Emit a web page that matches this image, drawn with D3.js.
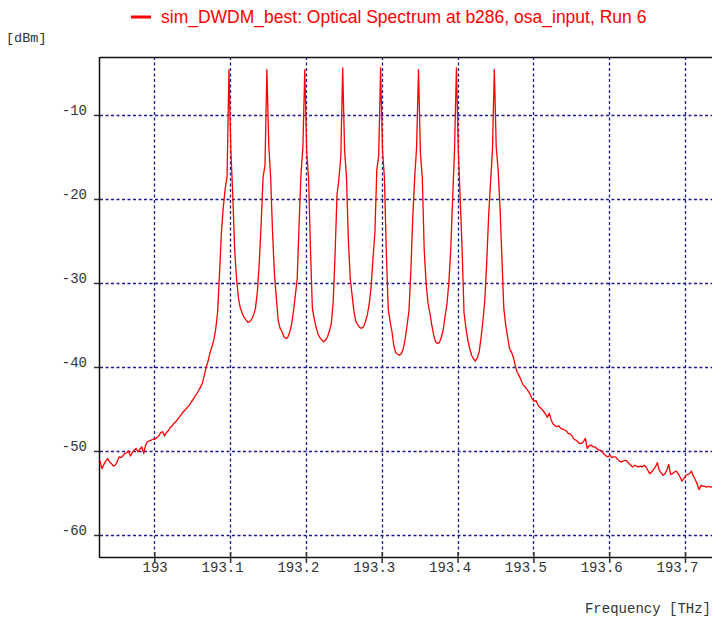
<!DOCTYPE html>
<html>
<head>
<meta charset="utf-8">
<script src="https://cdn.jsdelivr.net/npm/d3@7"></script>
<style>
  html, body { margin: 0; padding: 0; background: #fff; }
  svg { display: block; }
</style>
</head>
<body>
<svg id="chart" width="712" height="618"></svg>
<script>
// ---------------- DATA ----------------
const title = "sim_DWDM_best: Optical Spectrum at b286, osa_input, Run 6";
const yUnit = "[dBm]";
const xUnit = "Frequency [THz]";

// frequency sampling grid of the spectrum (THz)
const freqStart = 192.9285;
const freqStep = 0.0025;

// dBm samples left of the first channel
const noiseLeft = [-51.2, -52.1, -51.6, -51.2, -50.9, -51.3, -51.5, -51.8, -51.7, -51.3,
  -50.7, -50.8, -50.6, -50.3, -50.2, -50.0, -50.6, -50.2, -49.9, -49.7,
  -50.1, -49.8, -49.5, -50.3, -49.3, -48.9, -48.8, -48.7, -48.6, -48.6,
  -48.4, -48.2, -47.8, -47.7, -48.2, -47.8, -47.6, -47.2, -47.0, -46.7,
  -46.5, -46.2, -45.9, -45.6, -45.3, -45.1, -44.8, -44.6, -44.2, -43.9,
  -43.5, -43.2, -42.8, -42.4, -41.9, -41.0, -40.0, -39.3, -38.3, -37.6,
  -36.8, -35.5, -33.5, -29.0, -24.0, -21.0, -18.8, -17.3];

// channel peak levels (193.10 ... 193.45 THz)
const peakLevels = [-4.6, -4.6, -4.6, -4.4, -4.4, -4.6, -4.4, -4.6];

// samples between neighbouring channels
const gap1 = [-14.2, -19.5, -26.0, -29.5, -31.8, -33.0, -33.6, -34.1, -34.4, -34.7, -34.6, -34.3, -33.8, -33.0, -31.0, -27.5, -22.8, -17.4, -16.0];
const gap2 = [-13.6, -17.5, -24.0, -29.0, -31.8, -34.5, -35.4, -35.8, -36.4, -36.6, -36.5, -35.9, -35.0, -33.4, -31.5, -29.5, -23.0, -17.0, -13.9];
const gap3 = [-14.3, -17.5, -26.0, -33.0, -34.3, -35.3, -36.1, -36.5, -36.8, -37.0, -36.8, -36.4, -35.7, -34.8, -32.2, -26.5, -19.5, -17.6, -15.0];
const gap4 = [-14.2, -17.4, -25.0, -29.5, -31.5, -33.5, -34.6, -35.0, -35.3, -35.4, -35.2, -34.6, -33.8, -32.5, -30.5, -27.0, -24.0, -16.5, -14.9];
const gap5 = [-14.2, -17.4, -26.2, -33.0, -34.6, -35.8, -37.5, -38.3, -38.5, -38.6, -38.4, -37.8, -36.6, -35.0, -33.2, -28.3, -22.0, -17.4, -13.8];
const gap6 = [-14.5, -17.5, -26.0, -30.0, -32.4, -33.6, -35.0, -36.2, -37.0, -37.2, -37.1, -36.5, -35.6, -34.0, -32.5, -30.0, -26.0, -20.0, -14.2];
const gap7 = [-14.2, -20.0, -26.0, -33.5, -35.3, -36.8, -37.8, -38.6, -39.0, -39.3, -38.9, -38.2, -36.5, -34.5, -32.0, -27.5, -22.0, -18.0, -14.3];

// samples right of the last channel
const tailRight = [-13.8, -16.5, -21.0, -27.0, -33.0, -35.0, -36.4, -37.8, -38.2, -38.8,
  -39.8, -40.6, -41.0, -41.5, -42.1, -42.3, -42.6, -42.9, -43.3, -43.8,
  -44.1, -44.0, -44.5, -44.8, -45.0, -45.3, -45.6, -46.0, -45.5, -46.3,
  -46.8, -47.0, -47.1, -47.0, -47.3, -47.4, -47.5, -47.6, -47.9, -48.0,
  -48.2, -48.6, -48.7, -48.9, -49.1, -49.1, -48.9, -48.5, -49.7, -49.4,
  -49.3, -49.5, -49.5, -49.7, -49.9, -49.9, -50.1, -50.4, -50.6, -50.7,
  -50.5, -50.8, -50.7, -50.7, -51.0, -51.2, -51.3, -51.2, -51.1, -51.2,
  -51.5, -51.7, -51.9, -51.7, -51.8, -51.9, -51.8, -51.9, -51.7, -51.9,
  -52.3, -52.7, -52.5, -52.2, -51.9, -51.4, -52.3, -52.6, -52.9, -52.7,
  -52.3, -51.6, -52.8, -52.7, -52.5, -52.4, -52.7, -53.1, -53.6, -53.3,
  -52.9, -52.8, -52.7, -52.4, -53.0, -53.4, -53.9, -54.6, -54.1, -54.2,
  -54.2, -54.3, -54.2, -54.3, -54.3];

const xTicks = [193, 193.1, 193.2, 193.3, 193.4, 193.5, 193.6, 193.7];
const xTickLabels = ["193", "193.1", "193.2", "193.3", "193.4", "193.5", "193.6", "193.7"];
const yTicks = [-10, -20, -30, -40, -50, -60];
const yTickLabels = ["-10", "-20", "-30", "-40", "-50", "-60"];

// ---------------- ASSEMBLE ----------------
const gaps = [gap1, gap2, gap3, gap4, gap5, gap6, gap7];
let dbm = noiseLeft.slice();
peakLevels.forEach((p, i) => {
  dbm.push(p);
  if (i < gaps.length) dbm = dbm.concat(gaps[i]);
});
dbm = dbm.concat(tailRight);
const series = dbm.map((v, i) => ({ f: freqStart + i * freqStep, v }));

// ---------------- LAYOUT ----------------
const svg = d3.select("#chart");
const plot = { left: 100, top: 57, right: 712, bottom: 557 };

const x = d3.scaleLinear().domain([192.9284, 193.7356]).range([plot.left, plot.right]);
const y = d3.scaleLinear().domain([-3.1, -62.62]).range([plot.top, plot.bottom]);

const gridColor = "#1b1b8f";
const monoFont = "'Liberation Mono', 'Courier New', monospace";

svg.append("defs").append("clipPath").attr("id", "clip")
  .append("rect")
  .attr("x", plot.left).attr("y", plot.top)
  .attr("width", plot.right - plot.left).attr("height", plot.bottom - plot.top);

// grid lines
const grid = svg.append("g");
grid.selectAll("line.v").data(xTicks).enter().append("line")
  .attr("x1", d => Math.round(x(d)) + 0.5).attr("x2", d => Math.round(x(d)) + 0.5)
  .attr("y1", plot.top).attr("y2", plot.bottom)
  .attr("stroke", gridColor).attr("stroke-width", 1.3)
  .attr("stroke-dasharray", "3,2.5");
grid.selectAll("line.h").data(yTicks).enter().append("line")
  .attr("y1", d => Math.round(y(d)) + 0.5).attr("y2", d => Math.round(y(d)) + 0.5)
  .attr("x1", plot.left).attr("x2", plot.right)
  .attr("stroke", gridColor).attr("stroke-width", 1.3)
  .attr("stroke-dasharray", "3,2.5");

// axes (D3 axes for ticks + labels)
const xAxis = d3.axisBottom(x).tickValues(xTicks).tickFormat(() => "").tickSizeInner(6).tickSizeOuter(0);
const xg = svg.append("g").attr("transform", `translate(0,${plot.bottom})`).call(xAxis);
xg.select(".domain").remove();
xg.selectAll(".tick line").attr("stroke", "#333").attr("stroke-width", 1.5).attr("y1", -5);

const yAxis = d3.axisLeft(y).tickValues(yTicks).tickFormat(() => "").tickSizeInner(6).tickSizeOuter(0);
const yg = svg.append("g").attr("transform", `translate(${plot.left},0)`).call(yAxis);
yg.select(".domain").remove();
yg.selectAll(".tick line").attr("stroke", "#333").attr("stroke-width", 1.5);

// tick labels
svg.append("g").selectAll("text").data(xTicks).enter().append("text")
  .attr("x", d => x(d) + 13.5).attr("y", 572)
  .attr("text-anchor", "end")
  .attr("font-family", monoFont).attr("font-size", 14).attr("fill", "#333")
  .text((d, i) => xTickLabels[i]);
svg.append("g").selectAll("text").data(yTicks).enter().append("text")
  .attr("x", 87).attr("y", d => y(d))
  .attr("text-anchor", "end")
  .attr("font-family", monoFont).attr("font-size", 14).attr("fill", "#333")
  .text((d, i) => yTickLabels[i]);

// frame lines
svg.append("line").attr("x1", plot.left).attr("x2", plot.right).attr("y1", plot.top + 0.5).attr("y2", plot.top + 0.5)
  .attr("stroke", "#111").attr("stroke-width", 1.5);
svg.append("line").attr("x1", plot.left).attr("x2", plot.right).attr("y1", plot.bottom + 0.5).attr("y2", plot.bottom + 0.5)
  .attr("stroke", "#111").attr("stroke-width", 1.5);
svg.append("line").attr("x1", plot.left - 0.5).attr("x2", plot.left - 0.5).attr("y1", plot.top).attr("y2", plot.bottom + 1)
  .attr("stroke", "#111").attr("stroke-width", 1.5);

// spectrum line
const line = d3.line().x(d => x(d.f)).y(d => y(d.v));
svg.append("path").datum(series)
  .attr("clip-path", "url(#clip)")
  .attr("d", line)
  .attr("fill", "none").attr("stroke", "#ff0000").attr("stroke-width", 1.3)
  .attr("stroke-linejoin", "round");

// title / legend
svg.append("line").attr("x1", 131).attr("x2", 151).attr("y1", 17).attr("y2", 17)
  .attr("stroke", "#ff0000").attr("stroke-width", 3);
svg.append("text").attr("x", 161).attr("y", 23)
  .attr("font-family", "'Liberation Sans', Arial, sans-serif").attr("font-size", 17.5)
  .attr("fill", "#ff0000").text(title);

// unit labels
svg.append("text").attr("x", 6).attr("y", 42)
  .attr("font-family", monoFont).attr("font-size", 13.5).attr("fill", "#333").text(yUnit);
svg.append("text").attr("x", 711).attr("y", 613).attr("text-anchor", "end")
  .attr("font-family", monoFont).attr("font-size", 14).attr("fill", "#333").text(xUnit);
</script>
</body>
</html>
